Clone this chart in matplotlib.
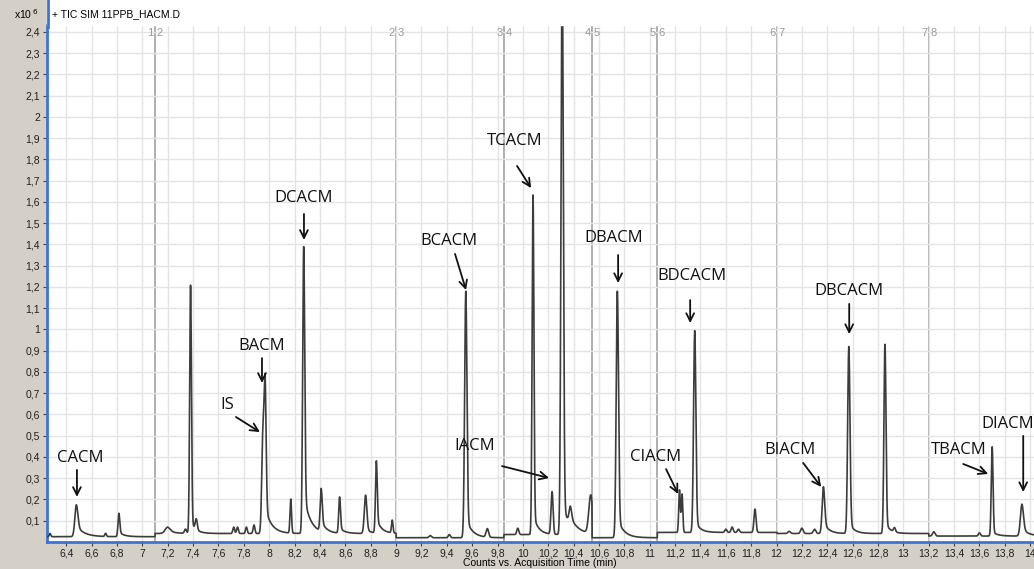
import numpy as np
import matplotlib.pyplot as plt
from matplotlib.lines import Line2D
from matplotlib.patches import Rectangle

# segment boundaries (min) and baseline level of each segment (x10^6 counts)
seg_edges = [6.24, 7.10, 9.00, 9.85, 10.545, 11.06, 12.005, 13.20, 14.05]
seg_base = [0.025, 0.040, 0.020, 0.035, 0.020, 0.045, 0.040, 0.028]

# peaks: time, height above baseline, width, tail share, tail length
peak_t = [6.272, 6.48, 6.71, 6.815,
          7.20, 7.34, 7.38, 7.425, 7.72, 7.75, 7.82, 7.88, 7.95, 7.968, 8.17, 8.272,
          8.41, 8.555, 8.76, 8.845, 8.97,
          9.27, 9.42, 9.55, 9.72,
          9.96, 10.08, 10.23, 10.31, 10.375, 10.535,
          10.745,
          11.235, 11.255, 11.355, 11.60, 11.65, 11.70, 11.83,
          12.10, 12.20, 12.30, 12.37, 12.57, 12.855, 12.93,
          13.24, 13.60, 13.70, 13.935]
peak_h = [0.015, 0.15, 0.015, 0.11,
          0.03, 0.02, 1.17, 0.05, 0.03, 0.03, 0.03, 0.04, 0.45, 0.68, 0.16, 1.35,
          0.20, 0.17, 0.18, 0.34, 0.06,
          0.01, 0.015, 1.16, 0.04,
          0.03, 1.60, 0.20, 2.70, 0.08, 0.18,
          1.16,
          0.20, 0.18, 0.95, 0.015, 0.025, 0.015, 0.11,
          0.01, 0.025, 0.02, 0.22, 0.88, 0.89, 0.02,
          0.02, 0.015, 0.42, 0.15]
peak_w = [0.006, 0.012, 0.006, 0.007,
          0.02, 0.008, 0.007, 0.008, 0.007, 0.007, 0.007, 0.007, 0.009, 0.008, 0.006, 0.008,
          0.008, 0.007, 0.010, 0.007, 0.006,
          0.010, 0.008, 0.009, 0.010,
          0.008, 0.007, 0.008, 0.009, 0.010, 0.015,
          0.009,
          0.006, 0.006, 0.009, 0.008, 0.008, 0.008, 0.008,
          0.010, 0.010, 0.010, 0.010, 0.009, 0.008, 0.008,
          0.010, 0.008, 0.007, 0.012]
peak_tail = [0, 0.35, 0, 0.2,
             0.5, 0, 0.05, 0, 0, 0, 0, 0, 0, 0.18, 0, 0.14,
             0.25, 0.15, 0.12, 0.2, 0,
             0, 0, 0.08, 0,
             0, 0.06, 0, 0.05, 0.4, 0,
             0.08,
             0, 0, 0.06, 0, 0, 0, 0,
             0, 0, 0, 0.25, 0.06, 0.06, 0,
             0, 0, 0.05, 0.25]
peak_tau = [0.04, 0.06, 0.04, 0.04,
            0.05, 0.04, 0.04, 0.04, 0.04, 0.04, 0.04, 0.04, 0.04, 0.05, 0.04, 0.05,
            0.04, 0.04, 0.04, 0.04, 0.04,
            0.04, 0.04, 0.05, 0.04,
            0.04, 0.04, 0.04, 0.07, 0.05, 0.04,
            0.05,
            0.04, 0.04, 0.04, 0.04, 0.04, 0.04, 0.04,
            0.04, 0.04, 0.04, 0.04, 0.04, 0.04, 0.04,
            0.04, 0.04, 0.04, 0.05]

# compound labels: text, text position, arrow start, arrow tip
labels = ['CACM', 'IS', 'BACM', 'DCACM', 'BCACM', 'TCACM', 'IACM',
          'DBACM', 'CIACM', 'BDCACM', 'BIACM', 'DBCACM', 'TBACM', 'DIACM']
label_xy = [(6.508, 0.395), (7.667, 0.644), (7.943, 0.922), (8.274, 1.618),
            (9.418, 1.416), (9.938, 1.886), (9.623, 0.452), (10.719, 1.430),
            (11.043, 0.400), (11.334, 1.251), (12.107, 0.433), (12.573, 1.180),
            (13.440, 0.433), (13.614, 0.555)]
arrow_from = [(6.484, 0.339), (7.738, 0.588), (7.943, 0.865), (8.274, 1.543),
              (9.465, 1.355), (9.954, 1.769), (9.836, 0.357), (10.751, 1.350),
              (11.129, 0.343), (11.319, 1.138), (12.210, 0.372), (12.573, 1.120),
              (13.472, 0.367), (13.945, 0.499)]
arrow_to = [(6.484, 0.212), (7.927, 0.517), (7.943, 0.748), (8.274, 1.421),
            (9.552, 1.185), (10.065, 1.665), (10.207, 0.301), (10.751, 1.218),
            (11.224, 0.226), (11.319, 1.030), (12.352, 0.259), (12.573, 0.978),
            (13.669, 0.320), (13.945, 0.235)]

# build the trace segment by segment
t = np.linspace(seg_edges[0], seg_edges[-1], 9000)
y = np.zeros_like(t)
for i in range(len(seg_base)):
    lo, hi = seg_edges[i], seg_edges[i + 1]
    m = (t >= lo) & (t < hi)
    ys = np.full(m.sum(), seg_base[i])
    ts = t[m]
    for t0, h, w, f, tau in zip(peak_t, peak_h, peak_w, peak_tail, peak_tau):
        if not (lo <= t0 < hi):
            continue
        g = np.exp(-0.5 * ((ts - t0) / w) ** 2)
        tail = np.where(ts >= t0, np.exp(-(ts - t0) / tau), g)
        ys += h * ((1 - f) * g + f * tail)
    y[m] = ys

fig = plt.figure(figsize=(10.34, 5.69), dpi=100, facecolor='#d4d0c8')
fig.patches.append(Rectangle((47 / 1034, 544 / 569), 1, 1, transform=fig.transFigure,
                             color='white', zorder=0))
ax = fig.add_axes([47 / 1034, 27 / 569, 987 / 1034, 517 / 569])
ax.set_facecolor('white')

ax.plot(t, y, color='#3c3c3c', lw=1.2, zorder=3)

ax.set_xlim(6.248, 14.03)
ax.set_ylim(0, 2.432)

xt = np.round(np.arange(6.4, 14.01, 0.2), 1)
ax.set_xticks(xt)
ax.set_xticklabels([('%g' % v).replace('.', ',') for v in xt])
yt = np.round(np.arange(0.1, 2.41, 0.1), 1)
ax.set_yticks(yt)
ax.set_yticklabels([('%g' % v).replace('.', ',') for v in yt])
ax.tick_params(direction='out', length=3, width=0.8, color='#404040',
               labelsize=7.5, labelcolor='#202020', pad=2)
for lab in ax.get_xticklabels() + ax.get_yticklabels():
    lab.set_family('Liberation Sans')
ax.grid(True, color='#e4e4e4', lw=1, zorder=0)

for s in ['top', 'right']:
    ax.spines[s].set_visible(False)
for s in ['left', 'bottom']:
    ax.spines[s].set_color('#3f72d6')
    ax.spines[s].set_linewidth(2)
fig.add_artist(Line2D([48 / 1034, 48 / 1034], [542 / 569, 1], color='#3f72d6', lw=2))

# segment boundaries
for i, e in enumerate(seg_edges[1:-1]):
    ax.axvline(e, color='#a8a8a8', lw=1.3, zorder=1)
    ax.text(e - 0.012, 2.395, str(i + 1), ha='right', va='center', fontsize=8,
            color='#9a9a9a', family='Liberation Sans')
    ax.text(e + 0.012, 2.395, str(i + 2), ha='left', va='center', fontsize=8,
            color='#9a9a9a', family='Liberation Sans')

for lab, (lx, ly), p0, p1 in zip(labels, label_xy, arrow_from, arrow_to):
    ax.text(lx, ly, lab, ha='left' if lab == 'DIACM' else 'center', va='center',
            fontsize=12, family='Open Sans', color='#111111', zorder=5)
    ax.annotate('', xy=p1, xytext=p0,
                arrowprops=dict(arrowstyle='->', color='#111111', lw=1.3,
                                mutation_scale=14, shrinkA=0, shrinkB=0), zorder=5)

fig.text(52 / 1034, 1 - 14 / 569, '+ TIC SIM 11PPB_HACM.D', fontsize=7.5,
         family='Liberation Sans', va='center', ha='left')
fig.text(14 / 1034, 1 - 14 / 569, r'x10$^{\,6}$', fontsize=7.5,
         family='Liberation Sans', va='center', ha='left')
fig.text(540 / 1034, 1 - 563 / 569, 'Counts vs. Acquisition Time (min)', fontsize=7.5,
         family='Liberation Sans', va='center', ha='center')

fig.savefig('out.png', dpi=100, facecolor=fig.get_facecolor())
